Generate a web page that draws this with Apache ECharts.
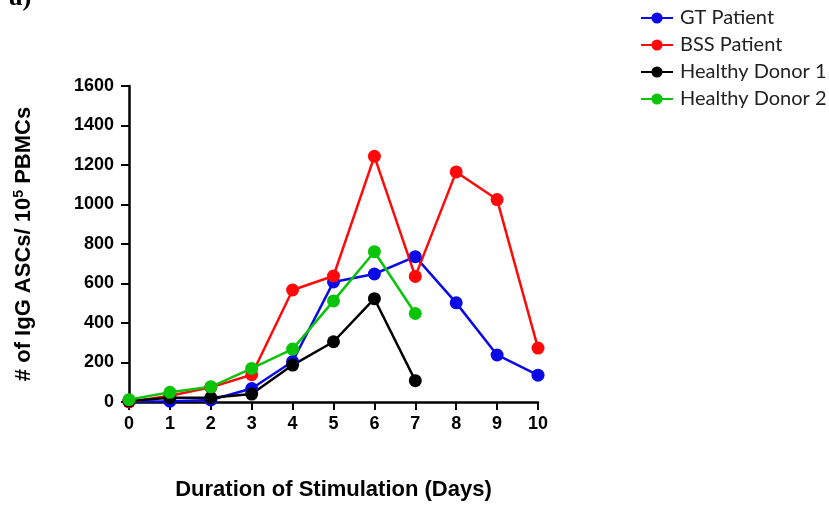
<!DOCTYPE html>
<html>
<head>
<meta charset="utf-8">
<script src="https://cdn.jsdelivr.net/npm/echarts@6/dist/echarts.min.js"></script>
<style>
  html, body { margin: 0; padding: 0; background: #fff; }
  #chart { width: 829px; height: 506px; }
</style>
</head>
<body>
<div id="chart"></div>
<script>
// Days of in-vitro stimulation
const days = ['0', '1', '2', '3', '4', '5', '6', '7', '8', '9', '10'];

// IgG antibody-secreting cells per 10^5 PBMCs
const gtPatient     = [2, 4, 10, 68, 205, 608, 648, 736, 502, 238, 136];
const bssPatient    = [0, 32, 74, 138, 567, 638, 1244, 636, 1165, 1025, 273];
const healthyDonor1 = [5, 22, 22, 40, 187, 305, 523, 108];
const healthyDonor2 = [12, 49, 77, 170, 268, 512, 761, 448];

const yTicks = { min: 0, max: 1600, interval: 200 };

const boldSans = 'Liberation Sans, Arial, sans-serif';
const axisFont = { fontFamily: boldSans, fontWeight: 'bold', fontSize: 18, color: '#000' };

function lineSeries(name, data, color) {
  return {
    name: name,
    type: 'line',
    data: data,
    symbol: 'circle',
    symbolSize: 13,
    lineStyle: { color: color, width: 2.5 },
    itemStyle: { color: color },
    z: 3
  };
}

const chart = echarts.init(document.getElementById('chart'), null, { renderer: 'canvas' });
chart.setOption({
  animation: false,
  backgroundColor: '#fff',
  grid: { left: 129, right: 291, top: 86, bottom: 103, containLabel: false },
  legend: {
    orient: 'vertical',
    left: 635,
    top: 3,
    itemWidth: 32,
    itemHeight: 14,
    itemGap: 7,
    textStyle: { fontFamily: 'Lato, Carlito, sans-serif', fontSize: 20, color: '#222', padding: [0, 0, 0, 2] },
    data: ['GT Patient', 'BSS Patient', 'Healthy Donor 1', 'Healthy Donor 2']
  },
  xAxis: {
    type: 'category',
    data: days,
    boundaryGap: false,
    axisLine: { lineStyle: { color: '#000', width: 2.5 } },
    axisTick: { show: true, length: 8, lineStyle: { color: '#000', width: 2 } },
    axisLabel: Object.assign({ margin: 13 }, axisFont),
    name: 'Duration of Stimulation (Days)',
    nameLocation: 'middle',
    nameGap: 77,
    nameTextStyle: { fontFamily: boldSans, fontWeight: 'bold', fontSize: 22, color: '#000' }
  },
  yAxis: {
    type: 'value',
    min: yTicks.min,
    max: yTicks.max,
    interval: yTicks.interval,
    splitLine: { show: false },
    axisLine: { show: true, lineStyle: { color: '#000', width: 2.5 } },
    axisTick: { show: true, length: 8, lineStyle: { color: '#000', width: 2 } },
    axisLabel: Object.assign({ margin: 15, formatter: function (v) { return String(v); } }, axisFont),
    name: '{t|# of IgG ASCs/ 10}{s|5}{t| PBMCs}',
    nameLocation: 'middle',
    nameGap: 93,
    nameRotate: 90,
    nameTextStyle: {
      rich: {
        t: { fontFamily: boldSans, fontWeight: 'bold', fontSize: 22, color: '#000' },
        s: { fontFamily: boldSans, fontWeight: 'bold', fontSize: 14, color: '#000', verticalAlign: 'top', padding: [0, 0, 10, 0] }
      }
    }
  },
  graphic: [{
    type: 'text',
    left: 9,
    top: -15,
    style: { text: 'a)', font: 'bold 27px "Liberation Serif", "Times New Roman", serif', fill: '#000' }
  }],
  series: [
    lineSeries('GT Patient', gtPatient, '#0a0ae6'),
    lineSeries('BSS Patient', bssPatient, '#ff0a0a'),
    lineSeries('Healthy Donor 1', healthyDonor1, '#000000'),
    lineSeries('Healthy Donor 2', healthyDonor2, '#0ac40a')
  ]
});
</script>
</body>
</html>
